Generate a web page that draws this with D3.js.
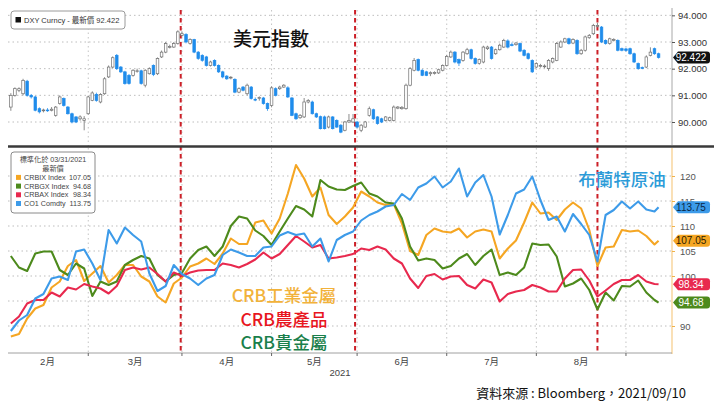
<!DOCTYPE html>
<html lang="zh-Hant">
<head>
<meta charset="utf-8">
<script src="https://d3js.org/d3.v7.min.js"></script>
<style>
  body { margin: 0; background: #fff; }
  text { font-family: "Liberation Sans", "Noto Sans CJK TC", sans-serif; }
  .cjk { font-family: "Noto Sans CJK TC", "Noto Sans CJK SC", sans-serif; }
</style>
</head>
<body>
<div id="chart"></div>
<script>
// x positions are trading-day indexes, 0 = 2021/02/02
var months = ["2月", "3月", "4月", "5月", "6月", "7月", "8月"];
var monthStart = [-1, 19, 42, 64, 85, 107, 129, 151];
var markers = [41.7, 84.5, 144];

// DXY daily candles: [open, high, low, close]
var dxyTicks = [90, 91, 92, 93, 94];
var dxyLast = 92.422;
var dxyOHLC = [
  [90.56,91.08,90.42,91.00],[91.00,91.30,90.95,91.25],[91.19,91.30,91.12,91.25],[91.06,91.62,91.00,91.56],
  [91.53,91.58,90.95,91.00],[91.00,91.05,90.88,90.94],[90.94,90.98,90.40,90.44],[90.50,90.55,90.32,90.38],
  [90.42,90.50,90.36,90.45],[90.45,90.52,90.38,90.44],[90.44,90.56,90.40,90.48],[90.25,90.60,90.20,90.56],
  [90.69,91.00,90.65,90.94],[90.88,90.92,90.58,90.62],[90.56,90.60,90.28,90.31],[90.31,90.35,89.95,90.00],
  [90.19,90.22,89.96,90.00],[90.12,90.25,90.05,90.19],[90.06,90.22,89.69,90.12],[90.31,90.98,90.28,90.94],
  [90.81,91.15,90.78,91.09],[91.03,91.10,90.76,90.81],[90.75,91.08,90.70,91.03],[91.06,91.68,91.02,91.62],
  [91.69,92.12,91.65,92.06],[92.06,92.46,92.02,92.41],[92.50,92.55,91.95,92.00],[92.06,92.10,91.84,91.88],
  [91.88,91.92,91.40,91.44],[91.75,91.80,91.40,91.44],[91.75,91.98,91.70,91.94],[91.90,92.00,91.85,91.92],
  [91.92,91.96,91.40,91.44],[91.38,91.98,91.30,91.94],[91.81,92.05,91.78,92.00],[92.12,92.16,91.72,91.78],
  [91.81,92.42,91.76,92.38],[92.44,92.68,92.40,92.62],[92.62,93.00,92.58,92.94],[92.81,92.90,92.76,92.83],
  [92.81,93.00,92.78,92.94],[92.94,93.44,92.90,93.38],[93.25,93.40,93.20,93.31],[93.28,93.33,92.95,93.00],
  [92.94,93.14,92.90,93.09],[93.09,93.12,92.58,92.62],[92.62,92.66,92.33,92.38],[92.50,92.54,92.26,92.31],
  [92.44,92.48,92.08,92.12],[92.12,92.30,92.08,92.25],[92.31,92.35,92.08,92.12],[92.12,92.16,91.84,91.88],
  [91.88,91.92,91.64,91.69],[91.72,91.76,91.58,91.62],[91.65,91.72,91.60,91.68],[91.60,91.64,91.08,91.12],
  [91.12,91.30,91.08,91.25],[91.31,91.35,91.15,91.19],[91.06,91.44,91.00,91.38],[91.31,91.35,90.84,90.88],
  [90.85,90.92,90.78,90.82],[90.88,90.96,90.80,90.92],[90.90,90.94,90.65,90.69],[90.69,90.73,90.42,90.50],
  [90.62,91.34,90.55,91.28],[91.25,91.30,90.96,91.00],[91.25,91.36,91.20,91.31],[91.31,91.42,91.28,91.38],
  [91.28,91.34,90.90,90.94],[90.90,90.94,90.22,90.25],[90.31,90.35,90.08,90.12],[90.16,90.30,90.12,90.25],
  [90.19,90.90,90.15,90.75],[90.75,90.86,90.70,90.81],[90.75,90.80,90.28,90.31],[90.31,90.35,90.15,90.19],
  [90.20,90.24,89.72,89.75],[90.19,90.24,89.72,89.75],[89.81,90.24,89.76,90.19],[90.19,90.22,89.72,89.75],
  [90.06,90.10,89.78,89.81],[89.88,89.92,89.58,89.62],[89.69,90.04,89.65,90.00],[90.00,90.30,89.96,90.06],
  [90.00,90.30,89.96,90.12],[90.00,90.04,89.76,89.81],[89.69,89.92,89.62,89.88],[89.81,90.04,89.78,90.00],
  [90.25,90.58,90.20,90.50],[90.46,90.50,90.08,90.12],[90.19,90.22,89.90,89.94],[90.12,90.16,89.96,90.00],
  [90.06,90.22,90.02,90.19],[90.06,90.20,90.02,90.16],[90.06,90.62,90.02,90.56],[90.52,90.60,90.48,90.56],
  [90.50,90.60,90.46,90.55],[90.50,91.44,90.46,91.38],[91.38,92.06,91.34,92.00],[91.94,92.40,91.90,92.31],
  [92.34,92.38,91.90,91.94],[91.94,91.98,91.72,91.75],[91.88,91.92,91.72,91.75],[91.81,91.90,91.72,91.85],
  [91.82,91.90,91.78,91.86],[91.84,92.00,91.80,91.96],[91.94,92.16,91.90,92.12],[92.12,92.52,92.08,92.46],
  [92.44,92.68,92.40,92.62],[92.62,92.66,92.20,92.25],[92.34,92.38,92.10,92.21],[92.31,92.66,92.26,92.62],
  [92.56,92.78,92.52,92.71],[92.71,92.75,92.34,92.38],[92.38,92.42,92.15,92.19],[92.19,92.38,92.15,92.34],
  [92.25,92.86,92.20,92.81],[92.75,92.86,92.70,92.81],[92.81,92.85,92.34,92.38],[92.56,92.75,92.52,92.71],
  [92.71,92.94,92.68,92.88],[92.81,93.12,92.78,93.06],[93.04,93.10,92.76,92.81],[92.90,92.98,92.84,92.88],
  [92.90,93.00,92.86,92.96],[92.94,92.98,92.62,92.66],[92.69,92.73,92.46,92.50],[92.56,92.60,92.34,92.38],
  [92.31,92.35,91.84,91.88],[92.06,92.24,92.02,92.19],[92.10,92.18,92.04,92.12],[92.08,92.16,92.02,92.10],
  [92.00,92.36,91.92,92.31],[92.25,92.42,92.20,92.38],[92.31,93.00,92.28,92.94],[92.81,93.06,92.78,93.00],
  [93.00,93.16,92.96,93.12],[93.12,93.16,92.90,92.94],[92.96,93.14,92.92,93.09],[93.06,93.10,92.52,92.56],
  [92.56,92.74,92.52,92.69],[92.69,93.24,92.64,93.19],[93.16,93.30,93.12,93.25],[93.31,93.68,93.26,93.62],
  [93.58,93.72,93.54,93.62],[93.56,93.60,92.96,93.00],[93.06,93.10,92.90,92.94],[92.94,93.16,92.90,93.12],
  [93.06,93.14,93.02,93.09],[93.06,93.10,92.65,92.69],[92.75,92.79,92.65,92.69],[92.74,92.78,92.64,92.68],
  [92.75,92.79,92.52,92.56],[92.56,92.60,92.21,92.25],[92.19,92.23,91.96,92.00],[92.04,92.08,91.98,92.02],
  [92.06,92.50,92.02,92.44],[92.50,92.80,92.46,92.62],[92.75,92.79,92.52,92.56],[92.56,92.60,92.38,92.42]
];

// CRB sub-indexes and Brent, normalized to 100 on 03/31/2021
var lineIdx = d3.range(0, 160, 2).concat([159]);
var crbix = [87.9,88.4,91.5,93.5,94.2,97.7,98.9,102.0,103.2,99.0,100.5,102.0,98.7,100.2,102.2,102.2,99.9,98.9,95.9,94.7,98.5,99.7,
  101.9,102.5,103.5,102.4,104.5,107.5,106.4,106.4,110.7,111.1,108.5,111.5,116.5,122.2,119.5,115.9,117.7,112.2,110.4,111.9,113.7,
  116.9,115.9,114.7,114.2,114.4,110.5,105.0,104.2,108.2,109.5,108.9,108.7,109.5,107.7,108.9,109.3,108.9,103.5,105.5,107.1,110.7,114.7,112.5,
  112.7,111.2,113.3,114.7,113.5,109.2,102.0,105.7,105.9,109.2,108.9,109.1,108.0,106.3,107.05];
var crbgx = [104.0,101.7,101.0,104.5,104.9,104.9,101.2,100.2,102.5,101.5,96.0,98.9,98.2,98.9,102.2,103.2,104.0,103.5,100.2,98.9,100.2,100.6,
  103.5,105.2,105.9,104.0,105.9,110.0,111.9,111.5,109.1,108.0,106.2,108.9,111.5,114.0,113.3,111.9,119.2,117.9,117.3,117.2,118.0,
  118.7,116.5,115.9,114.7,114.5,111.5,105.9,103.1,103.5,103.2,101.5,102.0,103.5,104.4,102.2,104.0,105.3,100.2,100.7,100.2,101.7,106.5,106.2,
  106.3,103.9,97.9,98.5,99.5,97.2,93.3,96.7,95.1,98.0,97.9,99.1,96.7,95.2,94.68];
var crbax = [90.5,91.9,94.5,95.2,95.2,96.7,95.9,97.7,97.3,98.4,97.9,97.5,96.5,98.0,101.2,101.7,101.3,101.7,100.4,98.9,100.7,100.0,
  100.7,101.1,101.2,101.2,102.5,102.2,101.7,102.4,103.3,104.7,103.5,104.4,106.2,108.0,106.9,105.7,106.2,103.5,103.7,104.0,104.4,
  105.5,105.2,105.9,105.3,103.5,102.5,99.5,97.6,100.0,100.4,99.3,99.9,100.0,98.2,97.5,99.3,98.7,94.9,96.4,96.9,97.2,98.2,97.7,
  96.9,96.9,99.5,101.2,101.3,99.1,95.9,97.1,98.4,99.2,99.2,100.2,98.9,98.4,98.34];
var co1 = [89.0,91.1,92.2,95.5,96.4,99.5,99.9,99.2,104.9,105.3,102.5,99.2,109.2,106.5,109.7,108.2,106.9,100.5,97.0,98.0,102.2,100.4,
  99.5,98.2,99.5,100.2,104.2,105.3,104.7,104.0,104.0,105.7,105.9,108.1,108.8,108.2,108.5,105.9,107.5,102.9,107.2,108.2,108.9,
  111.1,112.2,112.9,113.9,114.2,116.4,115.2,117.7,118.5,119.9,117.7,118.9,121.5,115.9,118.7,120.2,115.9,108.3,112.2,116.5,117.3,119.9,115.2,
  111.2,111.9,108.9,112.4,110.4,108.2,102.9,112.2,113.2,114.9,113.5,114.9,113.3,112.9,113.75];

var seriesNames = ["CRBIX Index", "CRBGX Index", "CRBAX Index", "CO1 Comdty"];
var lastValues = ["107.05", "94.68", "98.34", "113.75"];
var lineTicks = [90, 95, 100, 105, 110, 115, 120];
// 95 sits under the 94.68 tag in the original, so it gets no label
var lineLabels = [90, 100, 105, 110, 115, 120];

var colors = ["#f5a623", "#4d8a1c", "#e8294e", "#3d9be9"];
var tagText = ["#2a1c00", "#ffffff", "#ffffff", "#0b2846"];
var down = "#1f8ceb";

var W = 714, H = 403;
var left = 8, right = 672;

var svg = d3.select("#chart").append("svg")
    .attr("width", W)
    .attr("height", H);
svg.append("rect").attr("width", W).attr("height", H).attr("fill", "#fff");

var x = d3.scaleLinear().domain([-0.7, 162.3]).range([left, right]);
var yT = d3.scaleLinear().domain([89.1, 94.2]).range([146, 10]);
var yB = d3.scaleLinear().domain([84.6, 125.8]).range([353, 147]);

// grid
function grid(y, ticks, y0, y1) {
    svg.append("g").selectAll("line").data(ticks).join("line")
        .attr("x1", left).attr("x2", right)
        .attr("y1", d => y(d)).attr("y2", d => y(d))
        .attr("stroke", "#bdbdbd").attr("stroke-dasharray", "1.5,3");
    svg.append("g").selectAll("line").data(monthStart.slice(1)).join("line")
        .attr("x1", d => x(d)).attr("x2", d => x(d))
        .attr("y1", y0).attr("y2", y1)
        .attr("stroke", "#c4c4c4").attr("stroke-dasharray", "1.5,3");
}
grid(yT, dxyTicks, 10, 146);
grid(yB, lineTicks, 148, 353);

// red dashed event lines
svg.append("g").selectAll("line").data(markers).join("line")
    .attr("x1", d => x(d)).attr("x2", d => x(d))
    .attr("y1", 10).attr("y2", 353)
    .attr("stroke", "#cc1f27").attr("stroke-width", 2)
    .attr("stroke-dasharray", "4.5,3.5");

// candles
var bw = 2.6;
var candles = svg.append("g");
candles.selectAll("line").data(dxyOHLC).join("line")
    .attr("x1", (d, i) => x(i)).attr("x2", (d, i) => x(i))
    .attr("y1", d => yT(d[1])).attr("y2", d => yT(d[2]))
    .attr("stroke", d => d[3] < d[0] ? down : "#6f6f6f")
    .attr("stroke-width", 0.8);
candles.selectAll("rect").data(dxyOHLC).join("rect")
    .attr("x", (d, i) => x(i) - bw / 2)
    .attr("y", d => yT(Math.max(d[0], d[3])))
    .attr("width", bw)
    .attr("height", d => Math.max(0.8, Math.abs(yT(d[0]) - yT(d[3]))))
    .attr("fill", d => d[3] < d[0] ? down : "#fff")
    .attr("stroke", d => d[3] < d[0] ? down : "#6f6f6f")
    .attr("stroke-width", 0.7);

// normalized lines
var series = [crbix, crbgx, crbax, co1];
var line = d3.line()
    .x((d, i) => x(lineIdx[i]))
    .y(d => yB(d));
svg.append("g").selectAll("path").data(series).join("path")
    .attr("d", d => line(d))
    .attr("fill", "none")
    .attr("stroke", (d, i) => colors[i])
    .attr("stroke-width", 2.1)
    .attr("stroke-linejoin", "round");

// separator between the panels
svg.append("line")
    .attr("x1", left).attr("x2", W)
    .attr("y1", 146.5).attr("y2", 146.5)
    .attr("stroke", "#3a3a3a").attr("stroke-width", 2.5);

// right axes
svg.append("line").attr("x1", right).attr("x2", right).attr("y1", 8).attr("y2", 145)
    .attr("stroke", "#a8a8a8");
svg.append("line").attr("x1", right).attr("x2", right).attr("y1", 148).attr("y2", 354)
    .attr("stroke", "#f6cc86").attr("stroke-width", 1.2);

var axT = svg.append("g").attr("transform", "translate(" + right + ",0)")
    .call(d3.axisRight(yT).tickValues(dxyTicks).tickSize(3).tickPadding(3).tickFormat(d3.format(".3f")));
axT.select(".domain").remove();
axT.selectAll("line").attr("stroke", "#555");
axT.selectAll("text").attr("font-size", 9.5).attr("fill", "#333");

var axB = svg.append("g").attr("transform", "translate(" + right + ",0)")
    .call(d3.axisRight(yB).tickValues(lineLabels).tickSize(3).tickPadding(5));
axB.select(".domain").remove();
axB.selectAll("line").attr("stroke", "#f0b24a");
axB.selectAll("text").attr("font-size", 9.5).attr("fill", "#555");

// bottom time axis
svg.append("line").attr("x1", left).attr("x2", right).attr("y1", 353).attr("y2", 353)
    .attr("stroke", "#a0a0a0");
svg.append("g").selectAll("line").data(monthStart.slice(1)).join("line")
    .attr("x1", d => x(d)).attr("x2", d => x(d))
    .attr("y1", 353).attr("y2", 356)
    .attr("stroke", "#666");
svg.append("g").selectAll("text").data(months).join("text")
    .attr("x", (d, i) => x((monthStart[i] + monthStart[i + 1]) / 2))
    .attr("y", 365)
    .attr("text-anchor", "middle")
    .attr("font-size", 9.5).attr("fill", "#444")
    .text(d => d);
svg.append("text").attr("x", 340).attr("y", 376).attr("text-anchor", "middle")
    .attr("font-size", 9.5).attr("fill", "#444").text("2021");

// last value tags
function tag(v, fill, color, txt) {
    var cy = v, h = 6;
    svg.append("path")
        .attr("d", "M" + (right + 1) + "," + cy + "L" + (right + 6) + "," + (cy - h) +
            "H707Q710," + (cy - h) + " 710," + (cy - h + 3) + "V" + (cy + h - 3) +
            "Q710," + (cy + h) + " 707," + (cy + h) + "H" + (right + 6) + "Z")
        .attr("fill", fill);
    svg.append("text").attr("x", 691).attr("y", cy + 3.5)
        .attr("text-anchor", "middle")
        .attr("font-size", 10).attr("fill", color)
        .text(txt);
}
tag(yT(dxyLast), "#111", "#fff", d3.format(".3f")(dxyLast));
series.forEach(function(s, i) {
    tag(yB(+lastValues[i]), colors[i], tagText[i], lastValues[i]);
});

// legends
var lg1 = svg.append("g");
lg1.append("rect").attr("x", 11).attr("y", 11).attr("width", 114).attr("height", 18).attr("rx", 3)
    .attr("fill", "#fff").attr("stroke", "#9a9a9a");
lg1.append("rect").attr("x", 15.5).attr("y", 17).attr("width", 5.5).attr("height", 5.5).attr("fill", "#111");
lg1.append("text").attr("x", 24).attr("y", 23).attr("font-size", 7.5).attr("fill", "#333")
    .text("DXY Curncy - 最新價 " + d3.format(".3f")(dxyLast));

var lg2 = svg.append("g");
lg2.append("rect").attr("x", 11).attr("y", 152).attr("width", 84).attr("height", 61).attr("rx", 3)
    .attr("fill", "#fff").attr("fill-opacity", 0.9).attr("stroke", "#8a8a8a");
lg2.append("text").attr("x", 53).attr("y", 162).attr("text-anchor", "middle")
    .attr("font-size", 7.2).attr("fill", "#444").text("標準化於 03/31/2021");
lg2.append("text").attr("x", 53).attr("y", 170.5).attr("text-anchor", "middle")
    .attr("font-size", 7.2).attr("fill", "#444").text("最新價");
var rows = lg2.selectAll("g").data(seriesNames).join("g")
    .attr("transform", (d, i) => "translate(0," + (177.5 + i * 8.7) + ")");
rows.append("rect").attr("x", 16).attr("y", -2.6).attr("width", 5).attr("height", 5)
    .attr("fill", (d, i) => colors[i]);
rows.append("text").attr("x", 24).attr("y", 2.5).attr("font-size", 7.2).attr("fill", "#444")
    .text(d => d);
rows.append("text").attr("x", 91).attr("y", 2.5).attr("text-anchor", "end")
    .attr("font-size", 7.2).attr("fill", "#444")
    .text((d, i) => lastValues[i]);

// annotations
function note(tx, px, py, size, color, anchor) {
    svg.append("text").attr("class", "cjk")
        .attr("x", px).attr("y", py)
        .attr("text-anchor", anchor)
        .attr("font-size", size).attr("font-weight", 500)
        .attr("fill", color)
        .text(tx);
}
note("美元指數", 233, 46, 19, "#111", "start");
note("CRB工業金屬", 284, 302, 17.5, "#f2b23a", "middle");
note("CRB農產品", 284, 326, 17.5, "#e8161e", "middle");
note("CRB貴金屬", 284, 349, 17.5, "#1a7f4b", "middle");
note("布蘭特原油", 622, 186, 17.5, "#2b9bd8", "middle");

svg.append("text").attr("class", "cjk")
    .attr("x", 686).attr("y", 398).attr("text-anchor", "end")
    .attr("font-size", 13).attr("fill", "#111")
    .text("資料來源 : Bloomberg，2021/09/10");
</script>
</body>
</html>
